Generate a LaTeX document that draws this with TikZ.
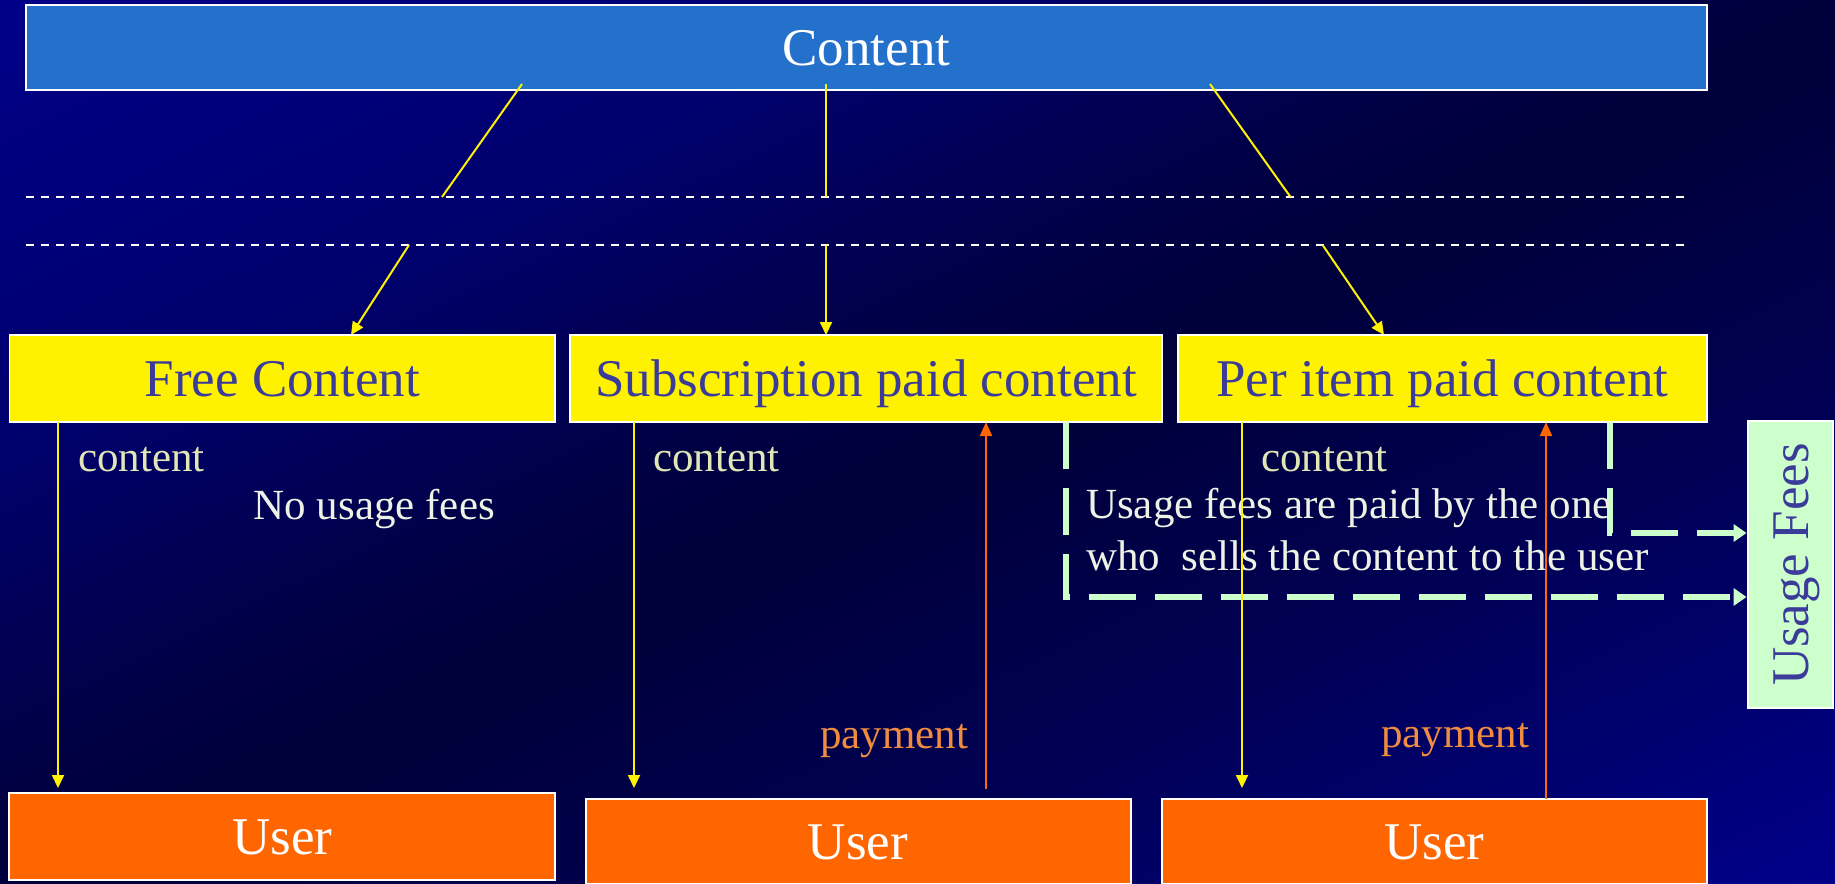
\documentclass[tikz,border=0pt]{standalone}
\usepackage{fontspec}
\setmainfont{Liberation Serif}
\usetikzlibrary{arrows.meta}
\definecolor{bg0}{RGB}{0,0,136}
\definecolor{bg1}{RGB}{0,0,110}
\definecolor{bg2}{RGB}{0,0,68}
\definecolor{bg3}{RGB}{0,0,58}
\definecolor{bg4}{RGB}{0,0,80}
\definecolor{bg5}{RGB}{0,0,138}
\definecolor{cblue}{RGB}{35,113,203}
\definecolor{tblue}{RGB}{59,59,154}
\definecolor{uorange}{RGB}{255,102,0}
\definecolor{lgreen}{RGB}{204,255,204}
\definecolor{labc}{RGB}{225,230,182}
\definecolor{labw}{RGB}{238,242,228}
\definecolor{payc}{RGB}{240,140,64}
\pgfdeclarehorizontalshading{bgshade}{100bp}{color(0bp)=(bg0); color(25bp)=(bg0); color(37.5bp)=(bg1); color(47bp)=(bg2); color(51bp)=(bg3); color(60bp)=(bg4); color(75bp)=(bg5); color(100bp)=(bg5)}
\tikzset{
  box/.style={rectangle, inner sep=0pt, text height=36pt, text depth=0pt, font=\fontsize{53}{60}\selectfont},
  ybox/.style={box, fill=yellow, draw=white, line width=1.5pt, text=tblue, minimum height=87pt},
  ubox/.style={box, fill=uorange, draw=white, line width=2pt, text=white},
  lbl/.style={inner sep=0pt, anchor=base west, font=\fontsize{43}{50}\selectfont},
  yarrow/.style={draw=yellow, line width=2pt, -{Triangle[length=13pt,width=12pt]}},
  yline/.style={draw=yellow, line width=2pt},
  oarrow/.style={draw=uorange, line width=2pt, -{Triangle[length=14pt,width=12pt]}},
  wdash/.style={draw=white, line width=2pt, dash pattern=on 8pt off 7pt},
  gdash/.style={draw=lgreen, line width=6pt, dash pattern=on 47pt off 19pt, -{Triangle[length=13pt,width=17pt]}}
}
\begin{document}
\begin{tikzpicture}[x=1pt,y=-1pt]
\useasboundingbox (0,0) rectangle (1835,883);
\begin{scope}
\clip (0,0) rectangle (1835,883);
\begin{scope}[transform canvas={shift={(917.5,441.5)}, rotate=-64.3}]
\shade[shading=bgshade] (-796.4,-1200) rectangle (796.4,1200);
\end{scope}
\end{scope}

% top box
\node[box, fill=cblue, draw=white, line width=2.5pt, minimum width=1681pt, minimum height=85pt, text=white] (content) at (866.5,47.5) {Content};

% dashed separators
\coordinate (s1a) at (26,197);
\coordinate (s1b) at (1686,197);
\coordinate (s2a) at (26,245);
\coordinate (s2b) at (1686,245);
\draw[wdash] (s1a) -- (s1b);
\draw[wdash] (s2a) -- (s2b);

% yellow content boxes
\node[ybox, minimum width=545.6pt] (free) at (282.2,378.5) {Free Content};
\node[ybox, minimum width=592pt] (sub) at (866,378.5) {Subscription paid content};
\node[ybox, minimum width=529pt] (per) at (1442.3,378.5) {Per item paid content};

% usage fees box
\node[box, fill=lgreen, draw=white, line width=2pt, rotate=90, minimum width=287pt, minimum height=85.5pt, text=tblue] (fees) at (1790.3,564.5) {Usage Fees};

% user boxes
\node[ubox, minimum width=545.6pt, minimum height=87pt] (u1) at (282.2,836.5) {User};
\node[ubox, minimum width=545pt, minimum height=85pt] (u2) at (858,841.5) {User};
\node[ubox, minimum width=545pt, minimum height=85pt] (u3) at (1434.5,841.5) {User};

% green dashed usage fee paths
\coordinate (g1) at (1066,422);
\coordinate (g2) at (1066,597);
\coordinate (g3) at (fees.north |- g2);
\coordinate (h1) at (1610,422);
\coordinate (h2) at (1610,533);
\coordinate (h3) at (fees.north |- h2);
\draw[gdash] (g1) -- (g2) -- (g3);
\draw[gdash] (h1) -- (h2) -- (h3);

% labels
\node[lbl, text=labc] (l1) at (78,471) {content};
\node[lbl, text=labw] (l2) at (253.5,519) {No usage fees};
\node[lbl, text=labc] (l3) at (653,471) {content};
\node[lbl, text=labc] (l4) at (1261,471) {content};
\node[lbl, text=labw] (l5) at (1086,518) {Usage fees are paid by the one};
\node[lbl, text=labw] (l6) at (1086,570) {who~~sells the content to the user};
\node[lbl, text=payc] (p1) at (820,748) {payment};
\node[lbl, text=payc] (p2) at (1381,747) {payment};

% connectors from Content
\coordinate (a1) at (522,84);
\coordinate (a2) at (442,197);
\coordinate (a3) at (409,245);
\coordinate (a4) at (351,335);
\coordinate (b1) at (826,84);
\coordinate (b2) at (826,197);
\coordinate (b3) at (826,245);
\coordinate (b4) at (826,335);
\coordinate (c1) at (1210,84);
\coordinate (c2) at (1290.5,197);
\coordinate (c3) at (1322.6,245);
\coordinate (c4) at (1384,335);
\draw[yline] (a1) -- (a2);
\draw[yarrow] (a3) -- (a4);
\draw[yline] (b1) -- (b2);
\draw[yarrow] (b3) -- (b4);
\draw[yline] (c1) -- (c2);
\draw[yarrow] (c3) -- (c4);

% content to users
\coordinate (d1) at (58,422);
\coordinate (d2) at (58,788);
\coordinate (e1) at (634,422);
\coordinate (e2) at (634,788);
\coordinate (f1) at (1242,422);
\coordinate (f2) at (1242,788);
\draw[yarrow] (d1) -- (d2);
\draw[yarrow] (e1) -- (e2);
\draw[yarrow] (f1) -- (f2);

% payments
\coordinate (o1) at (986,789);
\coordinate (o2) at (986,422);
\coordinate (q1) at (1546,799);
\coordinate (q2) at (1546,422);
\draw[oarrow] (o1) -- (o2);
\draw[oarrow] (q1) -- (q2);
\end{tikzpicture}
\end{document}
